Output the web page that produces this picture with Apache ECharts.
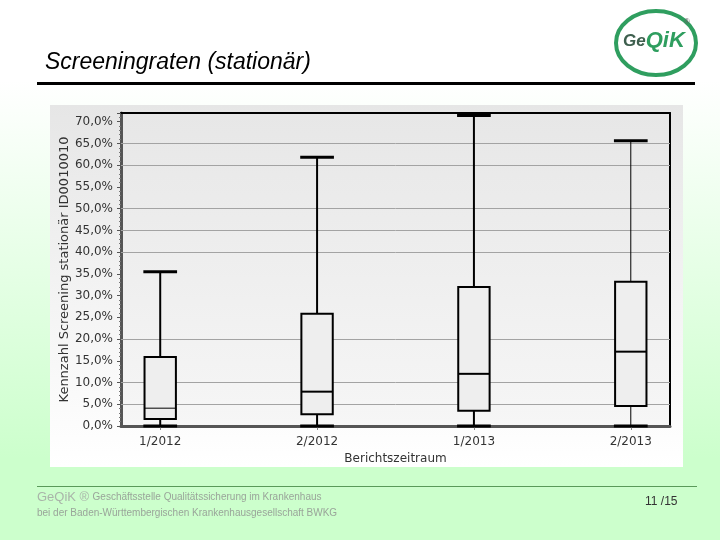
<!DOCTYPE html>
<html>
<head>
<meta charset="utf-8">
<script src="https://cdn.jsdelivr.net/npm/echarts@6/dist/echarts.min.js"></script>
<style>
  html, body { margin: 0; padding: 0; }
  #chart { width: 720px; height: 540px; }
</style>
</head>
<body>
<div id="chart"></div>
<script>
// Berichtszeitraum
const periods = ["1/2012", "2/2012", "1/2013", "2/2013"];
// Kennzahl in %
const whiskerLow = [0, 0, 0, 0];
const quart1 = [1.6, 2.7, 3.5, 4.6];
const medians = [4.1, 7.9, 12.0, 17.1];
const quart3 = [15.9, 25.8, 32.0, 33.2];
const whiskerHigh = [35.5, 61.8, 71.4, 65.6];
// Hilfslinien, die im Original sichtbar sind
const gridSteps = [5, 10, 20, 40, 45, 50, 60, 65];

const boxData = periods.map((p, i) => [
  i, whiskerLow[i], quart1[i], medians[i], quart3[i], whiskerHigh[i]
]);

const fmtPct = (v) => v.toFixed(1).replace(".", ",") + "%";

function renderBox(params, api) {
  const x = api.value(0);
  const pLow = api.coord([x, api.value(1)]);
  const pQ1 = api.coord([x, api.value(2)]);
  const pMed = api.coord([x, api.value(3)]);
  const pQ3 = api.coord([x, api.value(4)]);
  const pHigh = api.coord([x, api.value(5)]);
  const half = api.size([0.2, 0])[0] / 2;
  const capHalf = api.size([0.215, 0])[0] / 2;
  const cx = pLow[0];
  const whiskerW = params.dataIndex === 3 ? 1 : 2;
  const medW = params.dataIndex === 0 ? 1 : 2;
  return {
    type: "group",
    children: [
      { type: "line", shape: { x1: cx, y1: pQ3[1], x2: cx, y2: pHigh[1] },
        style: { stroke: "#000", lineWidth: whiskerW } },
      { type: "line", shape: { x1: cx, y1: pLow[1], x2: cx, y2: pQ1[1] },
        style: { stroke: "#000", lineWidth: whiskerW } },
      { type: "rect", shape: { x: cx - half, y: pQ3[1], width: half * 2, height: pQ1[1] - pQ3[1] },
        style: { fill: "#eeeeee", stroke: "#000", lineWidth: 2 } },
      { type: "line", shape: { x1: cx - half, y1: pMed[1], x2: cx + half, y2: pMed[1] },
        style: { stroke: "#000", lineWidth: medW } },
      { type: "line", shape: { x1: cx - capHalf, y1: pHigh[1], x2: cx + capHalf, y2: pHigh[1] },
        style: { stroke: "#000", lineWidth: 3 } },
      { type: "line", shape: { x1: cx - capHalf, y1: pLow[1], x2: cx + capHalf, y2: pLow[1] },
        style: { stroke: "#000", lineWidth: 3 } }
    ]
  };
}

const myChart = echarts.init(document.getElementById("chart"));
const option = {
  animation: false,
  backgroundColor: new echarts.graphic.LinearGradient(0, 0, 0, 1, [
    { offset: 0, color: "#ffffff" },
    { offset: 0.15, color: "#ffffff" },
    { offset: 0.85, color: "#ccffcc" },
    { offset: 1, color: "#ccffcc" }
  ]),
  graphic: [
    // panel behind the chart
    {
      type: "rect", z: -5,
      shape: { x: 50, y: 105, width: 633, height: 362 },
      style: {
        fill: new echarts.graphic.LinearGradient(0, 0, 0, 1, [
          { offset: 0, color: "#e6e6e6" },
          { offset: 1, color: "#ffffff" }
        ])
      }
    },
    // title
    {
      type: "text", left: 45, top: 51,
      style: { text: "Screeningraten (stationär)", font: "italic 23px 'Liberation Sans', Arial, sans-serif", fill: "#000" }
    },
    {
      type: "rect", shape: { x: 37, y: 82, width: 658, height: 3 }, style: { fill: "#000" }
    },
    // logo
    {
      type: "ellipse", shape: { cx: 656, cy: 43, rx: 40, ry: 32 },
      style: { fill: "#fff", stroke: "#2f9e5f", lineWidth: 4 }
    },
    {
      type: "text", left: 623, top: 30,
      style: {
        text: "{a|Ge}{b|QiK}",
        rich: {
          a: { font: "italic bold 17px 'Liberation Sans', Arial, sans-serif", fill: "#3e5f4e" },
          b: { font: "italic bold 22px 'Liberation Sans', Arial, sans-serif", fill: "#2f9e5f" }
        }
      }
    },
    {
      type: "text", left: 684, top: 18,
      style: { text: "®", font: "8px 'Liberation Sans', Arial, sans-serif", fill: "#666" }
    },
    // footer
    {
      type: "rect", shape: { x: 37, y: 486, width: 660, height: 1 }, style: { fill: "#5a9a5a" }
    },
    {
      type: "text", left: 37, top: 491,
      style: {
        text: "{a|GeQiK ®} {b|Geschäftsstelle Qualitätssicherung im Krankenhaus}",
        rich: {
          a: { font: "13px 'Liberation Sans', Arial, sans-serif", fill: "#a9b5a9" },
          b: { font: "10px 'Liberation Sans', Arial, sans-serif", fill: "#9aa59a" }
        }
      }
    },
    {
      type: "text", left: 37, top: 508,
      style: { text: "bei der Baden-Württembergischen Krankenhausgesellschaft BWKG", font: "10px 'Liberation Sans', Arial, sans-serif", fill: "#9aa59a" }
    },
    {
      type: "text", left: 645, top: 496,
      style: { text: "11 /15", font: "12px 'Liberation Sans', Arial, sans-serif", fill: "#333" }
    }
  ],
  grid: {
    left: 121, right: 50, top: 113, bottom: 114,
    show: true, borderWidth: 0,
    backgroundColor: new echarts.graphic.LinearGradient(0, 0, 0, 1, [
      { offset: 0, color: "#e7e7e7" },
      { offset: 1, color: "#f6f6f6" }
    ])
  },
  xAxis: [
    {
      type: "value", min: -0.25, max: 3.25, position: "bottom",
      name: "Berichtszeitraum", nameLocation: "middle", nameGap: 26,
      nameTextStyle: { fontFamily: "DejaVu Sans", fontSize: 12, color: "#333" },
      axisLine: { show: true, onZero: false, lineStyle: { color: "#555", width: 3 } },
      axisTick: { show: true, customValues: [0, 1, 2, 3], length: 4, lineStyle: { color: "#888" } },
      axisLabel: {
        customValues: [0, 1, 2, 3], margin: 10,
        fontFamily: "DejaVu Sans", fontSize: 12, color: "#333",
        formatter: (v) => periods[Math.round(v)]
      },
      splitLine: { show: false }
    },
    {
      type: "value", min: -0.25, max: 3.25, position: "top",
      axisLine: { show: true, onZero: false, lineStyle: { color: "#000", width: 2 } },
      axisTick: { show: false }, axisLabel: { show: false }, splitLine: { show: false }
    }
  ],
  yAxis: [
    {
      type: "value", min: 0, max: 72, interval: 5, position: "left",
      name: "Kennzahl Screening stationär ID0010010", nameLocation: "middle", nameGap: 50,
      nameMoveOverlap: false,
      nameTextStyle: { fontFamily: "DejaVu Sans", fontSize: 13, color: "#333" },
      axisLine: { show: true, onZero: false, lineStyle: { color: "#555", width: 3 } },
      axisTick: { show: true, length: 4, lineStyle: { color: "#555" } },
      minorTick: { show: true, splitNumber: 5, length: 2, lineStyle: { color: "#777" } },
      axisLabel: {
        showMaxLabel: false, margin: 8,
        fontFamily: "DejaVu Sans", fontSize: 12, color: "#333",
        formatter: fmtPct
      },
      splitLine: { show: false }
    },
    {
      type: "value", min: 0, max: 72, position: "right",
      axisLine: { show: true, onZero: false, lineStyle: { color: "#000", width: 2 } },
      axisTick: { show: false }, axisLabel: { show: false }, splitLine: { show: false }
    }
  ],
  series: [
    {
      type: "custom",
      xAxisIndex: 0, yAxisIndex: 0,
      renderItem: renderBox,
      encode: { x: 0, y: [1, 2, 3, 4, 5] },
      data: boxData,
      z: 5,
      markLine: {
        silent: true,
        symbol: "none",
        z: 1,
        label: { show: false },
        lineStyle: { color: "#a3a3a3", type: "solid", width: 1 },
        data: gridSteps.map((v) => ({ yAxis: v }))
      }
    }
  ]
};
myChart.setOption(option);
</script>
</body>
</html>
